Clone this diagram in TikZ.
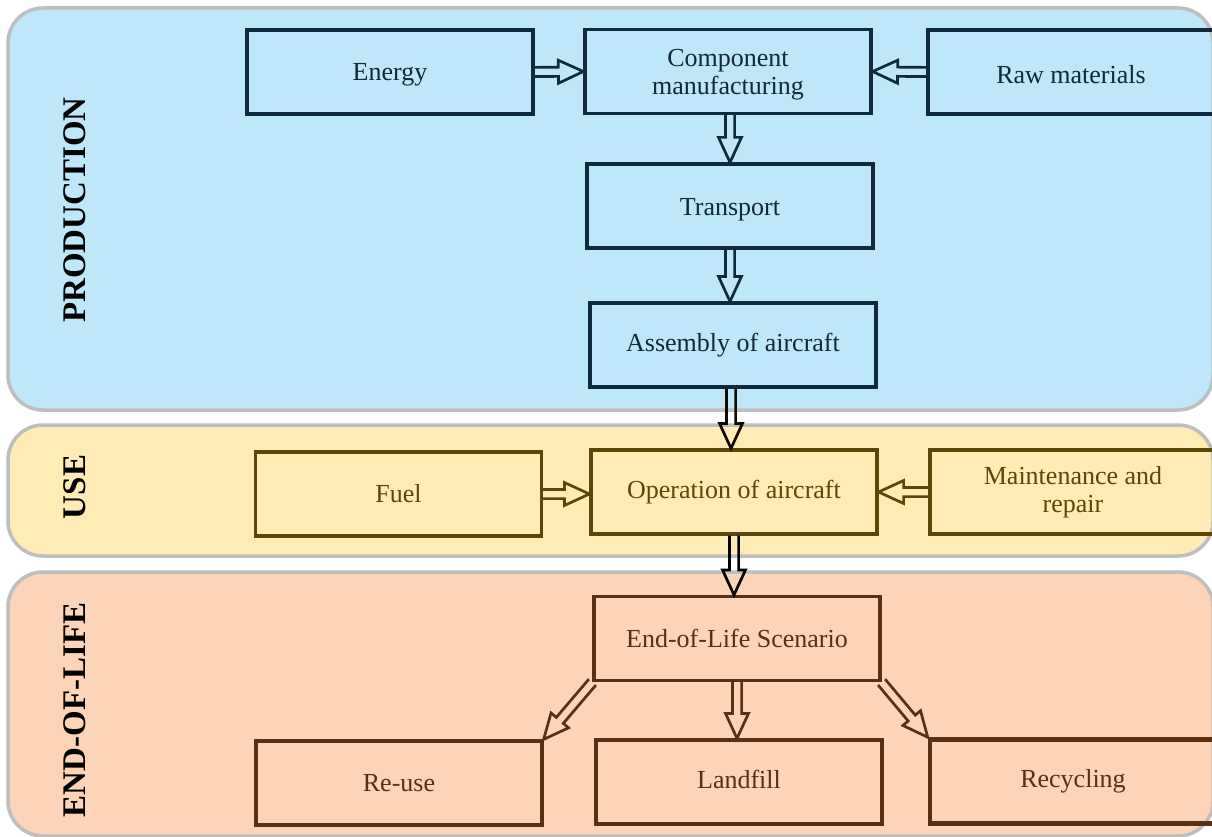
\documentclass[tikz,border=0pt]{standalone}
\usepackage{fontspec}
\setmainfont{Liberation Serif}
\usetikzlibrary{calc}
\definecolor{pblue}{RGB}{191,231,250}
\definecolor{pyellow}{RGB}{255,235,182}
\definecolor{ppeach}{RGB}{253,212,184}
\definecolor{pgray}{RGB}{190,190,190}
\definecolor{navy}{RGB}{14,42,60}
\definecolor{olived}{RGB}{92,70,10}
\definecolor{brownd}{RGB}{94,46,18}
\newcommand{\lowtxt}[2]{\raisebox{#1}[\height][\depth]{#2}}
\tikzset{
  panel/.style={draw=pgray, line width=3.5pt, rounded corners=35pt},
  box/.style={draw, line width=3.2pt, minimum width=286pt, minimum height=84pt,
    inner sep=0pt, align=center, font=\fontsize{26}{28}\selectfont},
  side/.style={rotate=90, font=\fontsize{33}{36}\selectfont\bfseries, text=black},
  harrow/.style={line width=2.7pt, line join=miter, miter limit=20, to path={
    let \p1=(\tikztostart), \p2=(\tikztotarget),
        \p3=($(\p2)!25pt!(\p1)$),
        \p4=($(\p1)!4.6pt!90:(\p2)$),
        \p5=($(\p3)!4.6pt!90:(\p2)$),
        \p6=($(\p3)!11.5pt!90:(\p2)$),
        \p7=($(\p3)!11.5pt!-90:(\p2)$),
        \p8=($(\p3)!4.6pt!-90:(\p2)$),
        \p9=($(\p1)!4.6pt!-90:(\p2)$)
    in (\p4) -- (\p5) -- (\p6) -- (\p2) -- (\p7) -- (\p8) -- (\p9)}}
}
\begin{document}
\begin{tikzpicture}[x=1pt,y=-1pt]
\path[use as bounding box, fill=white] (0,0) rectangle (1212,837);
\clip (0,0) rectangle (1212,837);
% panels
\draw[panel, fill=pblue] (8,8) rectangle (1213,410);
\draw[panel, fill=pyellow] (8,425) rectangle (1213,556);
\draw[panel, fill=ppeach] (8,572) rectangle (1213,836);
% side labels
\node[side] (lprod) at (75,210) {PRODUCTION};
\node[side] (luse) at (75,487) {USE};
\node[side] (leol) at (75,710) {END-OF-LIFE};
% production
\begin{scope}[every node/.style={box, draw=navy, text=navy}]
\node (energy) at (390,72) {\lowtxt{-2.5pt}{Energy}};
\node (comp) at (728,71.5) {\lowtxt{-3pt}{Component}\\\lowtxt{-3pt}{manufacturing}};
\node (raw) at (1071,72) {\lowtxt{-3pt}{Raw materials}};
\node (transport) at (730,206) {\lowtxt{-3.5pt}{Transport}};
\node (assembly) at (733,345) {Assembly of aircraft};
\end{scope}
% use
\begin{scope}[every node/.style={box, draw=olived, text=olived}]
\node (fuel) at (398.5,494) {Fuel};
\node (op) at (734,492) {Operation of aircraft};
\node (maint) at (1073,492) {Maintenance and\\repair};
\end{scope}
% end of life
\begin{scope}[every node/.style={box, draw=brownd, text=brownd}]
\node (eol) at (737,638.5) {End-of-Life Scenario};
\node (reuse) at (399,783) {Re-use};
\node (landfill) at (739,782) {\lowtxt{2.5pt}{Landfill}};
\node[line width=4.5pt] (recycling) at (1073,781.5) {Recycling};
\end{scope}
% arrows
\draw[harrow, draw=navy] (energy.east) to (comp.west);
\draw[harrow, draw=navy] (raw.west) to (comp.east);
\draw[harrow, draw=navy] ([xshift=2pt]comp.south) to ([xshift=2pt]comp.south |- transport.north);
\draw[harrow, draw=navy] (transport.south) to (transport.south |- assembly.north);
\draw[harrow, draw=black!85!olived] ([xshift=-2pt]assembly.south) to ([xshift=-2pt]assembly.south |- op.north);
\draw[harrow, draw=olived] (fuel.east) to (fuel.east -| op.west);
\draw[harrow, draw=olived] (maint.west) to (op.east);
\draw[harrow, draw=black] (op.south) to (op.south |- eol.north);
\draw[harrow, draw=brownd] (eol.south west) to (reuse.north east);
\draw[harrow, draw=brownd] (eol.south) to (eol.south |- landfill.north);
\draw[harrow, draw=brownd] (eol.south east) to (recycling.north west);
\end{tikzpicture}
\end{document}
